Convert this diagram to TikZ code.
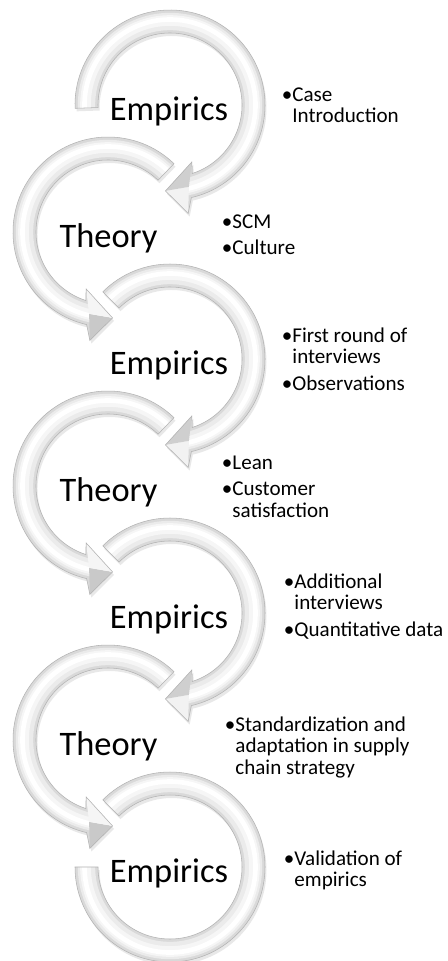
\documentclass[tikz,border=0pt]{standalone}
\usepackage{fontspec}
\setmainfont{Carlito}
\tikzset{
  emp/.style={insert path={(#1:95) arc[start angle=#1,end angle=-77,radius=95] -- (-80.5:110) -- (-93:86) -- (-69:61) -- (-72:72) arc[start angle=-72,end angle=#1,radius=72] -- cycle}},
  theo/.style={insert path={(46:95) arc[start angle=46,end angle=257,radius=95] -- (260.5:110) -- (273:86) -- (249:61) -- (252:72) arc[start angle=252,end angle=46,radius=72] -- cycle}},
  lastring/.style={insert path={(135:95) arc[start angle=135,end angle=-180,radius=95] -- (180:72) arc[start angle=-180,end angle=135,radius=72] -- cycle}},
  big/.style={font=\fontsize{25.8}{30}\selectfont, inner sep=0pt, anchor=base},
  item/.style={font=\fontsize{15.8}{16.2}\selectfont, inner sep=0pt, anchor=base west},
}
\newcommand\ringdraw[3]{%
  \begin{scope}[shift={#1}]
    \fill[gray!50, opacity=0.35, shift={(1.5,-3)}, #2];
    \fill[gray!30, #2];
    \begin{scope}
      \clip[#2];
      \draw[gray!16, line width=13pt] (0,0) circle[radius=83.5];
      \draw[gray!7, line width=8pt] (0,0) circle[radius=84.5];
      \draw[white, line width=3.5pt] (0,0) circle[radius=85.5];
      #3
    \end{scope}
    \draw[gray!60, line width=0.4pt, #2];
  \end{scope}}
\newcommand\emphead{%
  \fill[gray!10] (-93:86) -- (-80.5:110) -- (-77:84) -- cycle;
  \fill[gray!38] (-93:86) -- (-69:61) -- (-77:84) -- cycle;}
\newcommand\theohead{%
  \fill[gray!42] (273:86) -- (260.5:110) -- (257:84) -- cycle;
  \fill[gray!8] (273:86) -- (249:61) -- (257:84) -- cycle;}
\newcommand\bl{\makebox[8pt][l]{•}}
\begin{document}
\begin{tikzpicture}[x=0.75pt,y=0.75pt]
\useasboundingbox (0,0) rectangle (448,-961);
\fill[white] (0,0) rectangle (448,-961);
% rings, drawn from the bottom up
\ringdraw{(170,-867)}{lastring}{}
\ringdraw{(108,-740)}{theo}{\theohead}
\ringdraw{(170,-613)}{emp=135}{\emphead}
\ringdraw{(108,-486)}{theo}{\theohead}
\ringdraw{(170,-359)}{emp=135}{\emphead}
\ringdraw{(108,-232)}{theo}{\theohead}
\ringdraw{(170,-105)}{emp=182}{\emphead}
% labels
\node[big] (e1) at (169,-120) {Empirics};
\node[big] (t1) at (108.5,-247) {Theory};
\node[big] (e2) at (169,-374) {Empirics};
\node[big] (t2) at (108.5,-501) {Theory};
\node[big] (e3) at (169,-628) {Empirics};
\node[big] (t3) at (108.5,-755) {Theory};
\node[big] (e4) at (169,-882) {Empirics};
% bullet texts
\node[item] (g1) at (281.5,-101) {\begin{tabular}[t]{@{}l@{}l@{}}\bl&Case\\&Introduction\end{tabular}};
\node[item] (g2) at (221.5,-228) {\begin{tabular}[t]{@{}l@{}l@{}}\bl&SCM\\[4pt]\bl&Culture\end{tabular}};
\node[item] (g3) at (281.5,-342) {\begin{tabular}[t]{@{}l@{}l@{}}\bl&First round of\\&interviews\\[4pt]\bl&Observations\end{tabular}};
\node[item] (g4) at (221.5,-469) {\begin{tabular}[t]{@{}l@{}l@{}}\bl&Lean\\[4pt]\bl&Customer\\&satisfaction\end{tabular}};
\node[item] (g5) at (283.5,-588) {\begin{tabular}[t]{@{}l@{}l@{}}\bl&Additional\\&interviews\\[4pt]\bl&Quantitative data\end{tabular}};
\node[item] (g6) at (224.5,-731) {\begin{tabular}[t]{@{}l@{}l@{}}\bl&Standardization and\\&adaptation in supply\\&chain strategy\end{tabular}};
\node[item] (g7) at (283.5,-865) {\begin{tabular}[t]{@{}l@{}l@{}}\bl&Validation of\\&empirics\end{tabular}};
\end{tikzpicture}
\end{document}
